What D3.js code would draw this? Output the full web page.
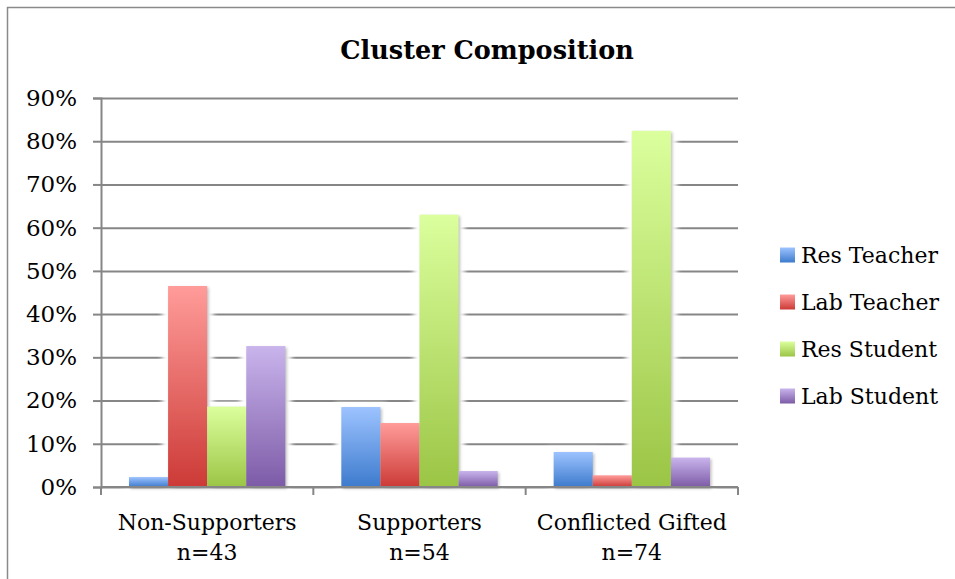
<!DOCTYPE html>
<html>
<head>
<meta charset="utf-8">
<script src="https://cdn.jsdelivr.net/npm/d3@7"></script>
<style>
  body { margin: 0; background: #fff; }
  svg { display: block; }
</style>
</head>
<body>
<div id="chart"></div>
<script>
// chart data
const clusters = ["Non-Supporters", "Supporters", "Conflicted Gifted"];
const clusterSizes = ["n=43", "n=54", "n=74"];
const seriesNames = ["Res Teacher", "Lab Teacher", "Res Student", "Lab Student"];
const resTeacher = [0.023, 0.185, 0.081];
const labTeacher = [0.465, 0.148, 0.027];
const resStudent = [0.186, 0.630, 0.824];
const labStudent = [0.326, 0.037, 0.068];
const yTicks = [0, 0.1, 0.2, 0.3, 0.4, 0.5, 0.6, 0.7, 0.8, 0.9];

const seriesValues = [resTeacher, labTeacher, resStudent, labStudent];
const seriesColors = [
    ["#9dc3ff", "#3d7bcd"],
    ["#ff9c9a", "#cc3a36"],
    ["#dbff9d", "#9bc545"],
    ["#c9b4ec", "#7d5ba7"]
];

document.addEventListener("DOMContentLoaded", () => {
    const width = 955, height = 579;
    const left = 101, right = 738, top = 98, bottom = 487;
    const font = "'DejaVu Serif', serif";

    const svg = d3.select("#chart").append("svg")
        .attr("width", width)
        .attr("height", height)
        .style("font-family", font);

    const defs = svg.append("defs");
    seriesColors.forEach((c, i) => {
        const g = defs.append("linearGradient")
            .attr("id", "grad" + i)
            .attr("x1", 0).attr("y1", 0).attr("x2", 0).attr("y2", 1);
        g.append("stop").attr("offset", "0%").attr("stop-color", c[0]);
        g.append("stop").attr("offset", "100%").attr("stop-color", c[1]);
    });
    const glow = defs.append("filter").attr("id", "glow")
        .attr("x", "-30%").attr("y", "-30%").attr("width", "160%").attr("height", "160%");
    glow.append("feGaussianBlur").attr("stdDeviation", 2.5);
    const shadow = defs.append("filter").attr("id", "shadow")
        .attr("x", "-30%").attr("y", "-30%").attr("width", "160%").attr("height", "160%");
    shadow.append("feGaussianBlur").attr("stdDeviation", 1.5);

    // outer frame
    svg.append("rect")
        .attr("x", 7.5).attr("y", 7.5)
        .attr("width", 980).attr("height", 600)
        .attr("fill", "none")
        .attr("stroke", "#8a8a8a")
        .attr("stroke-width", 1.5);

    // title
    svg.append("text")
        .attr("x", 487)
        .attr("y", 59)
        .attr("text-anchor", "middle")
        .style("font-size", "25.5px")
        .style("font-weight", "bold")
        .text("Cluster Composition");

    const y = d3.scaleLinear().domain([0, 0.9]).range([bottom, top]);
    const x0 = d3.scaleBand().domain(clusters).range([left, right]);
    const x1 = d3.scaleBand().domain(seriesNames)
        .range([28, x0.bandwidth() - 28]);

    // gridlines
    svg.append("g")
        .attr("transform", `translate(${left},0)`)
        .call(d3.axisLeft(y).tickValues(yTicks).tickSize(-(right - left)).tickFormat(""))
        .call(g => g.select(".domain").remove())
        .call(g => g.selectAll("line").attr("stroke", "#868686").attr("stroke-width", 2));

    // bars
    const groups = svg.append("g").selectAll("g")
        .data(clusters)
        .join("g")
        .attr("transform", d => `translate(${x0(d)},0)`);

    const barData = (c, ci) => seriesNames.map((s, si) => ({ s, si, v: seriesValues[si][ci] }));

    groups.each(function (c, ci) {
        const g = d3.select(this);
        const data = barData(c, ci);
        // white halo that breaks the gridlines next to each bar
        g.selectAll(".halo")
            .data(data)
            .join("rect")
            .attr("class", "halo")
            .attr("x", d => x1(d.s) - 6)
            .attr("width", x1.bandwidth() + 12)
            .attr("y", d => y(d.v) - 4)
            .attr("height", d => bottom - y(d.v) + 4)
            .attr("fill", "#fff")
            .attr("filter", "url(#glow)");
        g.selectAll(".shadow")
            .data(data)
            .join("rect")
            .attr("class", "shadow")
            .attr("x", d => x1(d.s) + 1.5)
            .attr("width", x1.bandwidth())
            .attr("y", d => y(d.v) + 1.5)
            .attr("height", d => bottom - y(d.v))
            .attr("fill", "#000")
            .attr("opacity", 0.25)
            .attr("filter", "url(#shadow)");
        g.selectAll(".bar")
            .data(data)
            .join("rect")
            .attr("class", "bar")
            .attr("x", d => x1(d.s))
            .attr("width", x1.bandwidth())
            .attr("y", d => y(d.v))
            .attr("height", d => bottom - y(d.v))
            .attr("fill", d => `url(#grad${d.si})`);
    });

    // y axis
    svg.append("g")
        .attr("transform", `translate(${left},0)`)
        .call(d3.axisLeft(y).tickValues(yTicks).tickSize(8).tickPadding(16).tickFormat(d3.format(".0%")))
        .call(g => g.attr("font-family", null).attr("font-size", null))
        .call(g => g.select(".domain").attr("stroke", "#868686").attr("stroke-width", 2))
        .call(g => g.selectAll("line").attr("stroke", "#868686").attr("stroke-width", 2))
        .call(g => g.selectAll("text")
            .attr("fill", "#000")
            .style("font-size", "23px"));

    // x axis
    svg.append("line")
        .attr("x1", left).attr("x2", right)
        .attr("y1", bottom).attr("y2", bottom)
        .attr("stroke", "#868686").attr("stroke-width", 2);
    svg.append("g").selectAll("line")
        .data(clusters.map(c => x0(c)).concat([right]))
        .join("line")
        .attr("x1", d => d).attr("x2", d => d)
        .attr("y1", bottom).attr("y2", bottom + 8)
        .attr("stroke", "#868686").attr("stroke-width", 2);

    const labels = svg.append("g").selectAll("text")
        .data(clusters)
        .join("text")
        .attr("text-anchor", "middle")
        .style("font-size", "22px");
    labels.append("tspan")
        .attr("x", d => x0(d) + x0.bandwidth() / 2)
        .attr("y", 530)
        .text(d => d);
    labels.append("tspan")
        .attr("x", d => x0(d) + x0.bandwidth() / 2)
        .attr("y", 560)
        .text((d, i) => clusterSizes[i]);

    // legend
    const legend = svg.append("g").selectAll("g")
        .data(seriesNames)
        .join("g")
        .attr("transform", (d, i) => `translate(780,${255 + i * 47})`);
    legend.append("rect")
        .attr("x", 0).attr("y", -7.5)
        .attr("width", 15).attr("height", 15)
        .attr("fill", (d, i) => `url(#grad${i})`);
    legend.append("text")
        .attr("x", 21)
        .attr("y", 8)
        .style("font-size", "22px")
        .text(d => d);
});
</script>
</body>
</html>
